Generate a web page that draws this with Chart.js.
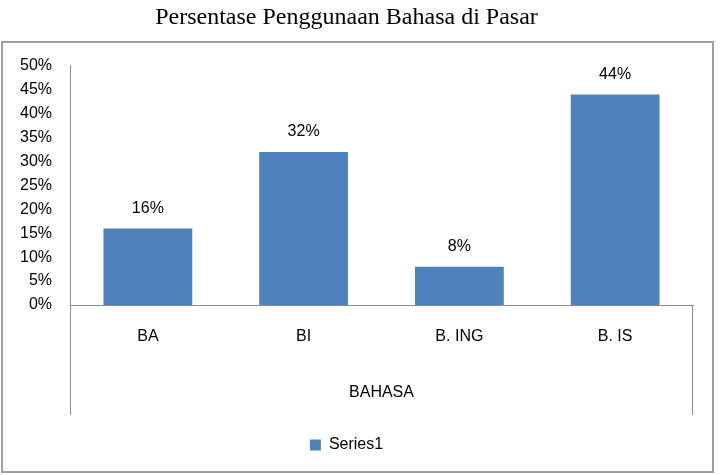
<!DOCTYPE html>
<html>
<head>
<meta charset="utf-8">
<script src="https://cdn.jsdelivr.net/npm/chart.js@4"></script>
<style>
  html, body { margin: 0; padding: 0; background: #fff; }
  #wrap { width: 721px; height: 475px; }
</style>
</head>
<body>
<div id="wrap"><canvas id="c" width="721" height="475"></canvas></div>
<script>
const categories = ['BA', 'BI', 'B. ING', 'B. IS'];
const seriesName = 'Series1';
const values = [16, 32, 8, 44];
const yTicks = [0, 5, 10, 15, 20, 25, 30, 35, 40, 45, 50];

const BAR = '#4F81BD';
const AXIS = '#8c8c8c';
const FONT = "'Liberation Sans', Arial, sans-serif";

// outer frame, extended category lines and value labels
const decor = {
  id: 'decor',
  beforeDraw(chart) {
    const ctx = chart.ctx;
    ctx.save();
    ctx.fillStyle = '#fff';
    ctx.fillRect(0, 0, chart.width, chart.height);
    ctx.strokeStyle = '#a0a0a0';
    ctx.lineWidth = 2;
    ctx.strokeRect(2, 42, 711, 430);
    ctx.restore();
  },
  afterDraw(chart) {
    const ctx = chart.ctx;
    const x = chart.scales.x;
    const area = chart.chartArea;
    ctx.save();
    ctx.strokeStyle = AXIS;
    ctx.lineWidth = 1;
    ctx.beginPath();
    ctx.moveTo(Math.round(area.left) + 0.5, area.bottom);
    ctx.lineTo(Math.round(area.left) + 0.5, x.bottom);
    ctx.moveTo(Math.round(area.right) - 0.5, area.bottom);
    ctx.lineTo(Math.round(area.right) - 0.5, x.bottom);
    ctx.stroke();

    ctx.fillStyle = '#000';
    ctx.font = '16px ' + FONT;
    ctx.textAlign = 'center';
    ctx.textBaseline = 'middle';
    chart.getDatasetMeta(0).data.forEach((bar, i) => {
      ctx.fillText(values[i] + '%', bar.x, bar.y - 20);
    });
    ctx.restore();
  }
};

new Chart(document.getElementById('c'), {
  type: 'bar',
  data: {
    labels: categories,
    datasets: [{
      label: seriesName,
      data: values,
      backgroundColor: BAR,
      borderWidth: 0,
      categoryPercentage: 1,
      barPercentage: 0.57,
    }],
  },
  options: {
    responsive: false,
    animation: false,
    devicePixelRatio: 1,
    layout: { padding: { left: 0, right: 28, top: 0, bottom: 12 } },
    plugins: {
      title: {
        display: true,
        text: 'Persentase Penggunaan Bahasa di Pasar',
        color: '#000',
        font: { family: "'Liberation Serif', 'Times New Roman', serif", size: 24, weight: 'normal' },
        padding: { top: 3, bottom: 34 },
      },
      legend: {
        position: 'bottom',
        labels: {
          color: '#000',
          font: { family: FONT, size: 16 },
          boxWidth: 11,
          boxHeight: 11,
          padding: 22,
        },
      },
      tooltip: { enabled: false },
    },
    scales: {
      x: {
        grid: { display: false, drawTicks: false },
        border: { color: AXIS, width: 1 },
        ticks: { color: '#000', font: { family: FONT, size: 16 }, padding: 22 },
        title: {
          display: true,
          text: 'BAHASA',
          color: '#000',
          font: { family: FONT, size: 16 },
          padding: { top: 0, bottom: 13 },
        },
        afterFit: (s) => { s.height = 110; },
      },
      y: {
        min: 0,
        max: 50,
        afterBuildTicks: (s) => { s.ticks = yTicks.map((v) => ({ value: v })); },
        grid: { display: false, drawTicks: false },
        border: { color: AXIS, width: 1 },
        ticks: {
          color: '#000',
          font: { family: FONT, size: 16 },
          padding: 18,
          callback: (v) => v + '%',
        },
        afterFit: (s) => { s.width = 70; },
      },
    },
  },
  plugins: [decor],
});
</script>
</body>
</html>
